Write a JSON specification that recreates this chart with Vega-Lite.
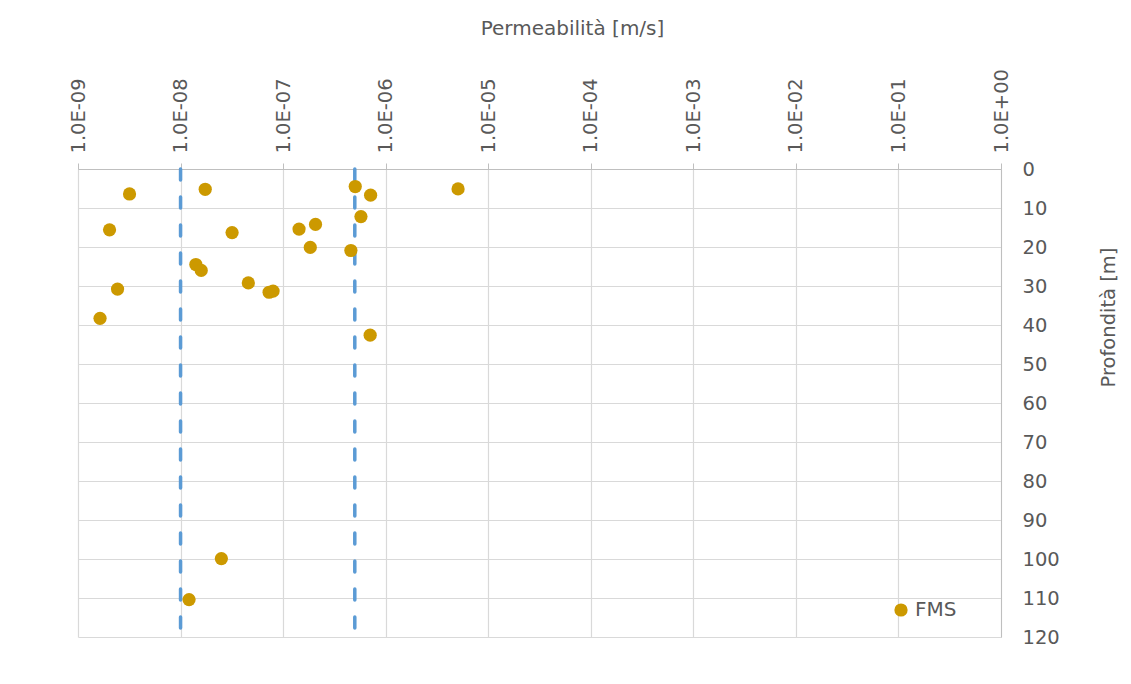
{
  "$schema": "https://vega.github.io/schema/vega-lite/v6.json",
  "width": 923,
  "height": 468,
  "autosize": {"type": "none"},
  "padding": {"left": 78, "top": 169, "right": 130, "bottom": 47},
  "background": "white",
  "config": {
    "font": "DejaVu Sans",
    "view": {"stroke": null}
  },
  "datasets": {
    "pts": [
      {"k": 3.18e-9, "depth": 6.4, "series": "FMS"},
      {"k": 1.74e-8, "depth": 5.2, "series": "FMS"},
      {"k": 5.05e-7, "depth": 4.5, "series": "FMS"},
      {"k": 7.13e-7, "depth": 6.7, "series": "FMS"},
      {"k": 5.08e-6, "depth": 5.1, "series": "FMS"},
      {"k": 5.74e-7, "depth": 12.2, "series": "FMS"},
      {"k": 2.03e-9, "depth": 15.6, "series": "FMS"},
      {"k": 3.18e-8, "depth": 16.3, "series": "FMS"},
      {"k": 1.43e-7, "depth": 15.4, "series": "FMS"},
      {"k": 2.07e-7, "depth": 14.2, "series": "FMS"},
      {"k": 1.84e-7, "depth": 20.1, "series": "FMS"},
      {"k": 4.58e-7, "depth": 20.9, "series": "FMS"},
      {"k": 1.41e-8, "depth": 24.5, "series": "FMS"},
      {"k": 1.59e-8, "depth": 26.0, "series": "FMS"},
      {"k": 4.58e-8, "depth": 29.2, "series": "FMS"},
      {"k": 7.3e-8, "depth": 31.6, "series": "FMS"},
      {"k": 7.98e-8, "depth": 31.3, "series": "FMS"},
      {"k": 2.43e-9, "depth": 30.8, "series": "FMS"},
      {"k": 1.64e-9, "depth": 38.3, "series": "FMS"},
      {"k": 7.06e-7, "depth": 42.6, "series": "FMS"},
      {"k": 2.5e-8, "depth": 99.9, "series": "FMS"},
      {"k": 1.21e-8, "depth": 110.4, "series": "FMS"}
    ],
    "limits": [
      {"k": 1e-8},
      {"k": 5.0e-7}
    ]
  },
  "layer": [
    {
      "data": {"name": "limits"},
      "mark": {"type": "rule", "color": "#5b9bd5", "strokeWidth": 3.5, "strokeDash": [11, 17], "strokeCap": "round"},
      "encoding": {
        "x": {"field": "k", "type": "quantitative", "scale": {"type": "log", "domain": [1e-9, 1]}}
      }
    },
    {
      "data": {"name": "pts"},
      "mark": {"type": "circle", "size": 175, "opacity": 1},
      "encoding": {
        "x": {
          "field": "k", "type": "quantitative",
          "scale": {"type": "log", "domain": [1e-9, 1]},
          "axis": {
            "orient": "top",
            "title": "Permeabilità [m/s]",
            "titleFontSize": 20,
            "titleFontWeight": "normal",
            "titleColor": "#595959",
            "titleX": 494,
            "titleY": -141,
            "titleAlign": "center",
            "titleBaseline": "middle",
            "values": [1e-9, 1e-8, 1e-7, 1e-6, 1e-5, 1e-4, 1e-3, 1e-2, 1e-1, 1],
            "labelExpr": "'1.0E' + (round(log(datum.value)/LN10) < 0 ? '-' : '+') + (abs(round(log(datum.value)/LN10)) < 10 ? '0' : '') + abs(round(log(datum.value)/LN10))",
            "labelAngle": -90,
            "labelAlign": "left",
            "labelBaseline": "middle",
            "labelFontSize": 19.5,
            "labelColor": "#595959",
            "labelPadding": 10,
            "labelFlush": false,
            "labelOverlap": false,
            "tickColor": "#bfbfbf",
            "tickSize": 6,
            "domainColor": "#bfbfbf",
            "grid": true,
            "gridColor": "#d9d9d9",
            "gridWidth": 1.2
          }
        },
        "y": {
          "field": "depth", "type": "quantitative",
          "scale": {"domain": [0, 120], "reverse": true, "nice": false},
          "axis": {
            "orient": "right",
            "title": "Profondità [m]",
            "titleFontSize": 19.5,
            "titleFontWeight": "normal",
            "titleColor": "#595959",
            "titleAngle": 270,
            "titleX": 107,
            "titleY": 148,
            "titleBaseline": "middle",
            "titleAlign": "center",
            "values": [0, 10, 20, 30, 40, 50, 60, 70, 80, 90, 100, 110, 120],
            "labelFontSize": 19.5,
            "labelColor": "#595959",
            "labelPadding": 21,
            "ticks": false,
            "domainColor": "#bfbfbf",
            "grid": true,
            "gridColor": "#d9d9d9",
            "gridWidth": 1.2
          }
        },
        "color": {
          "field": "series", "type": "nominal",
          "scale": {"range": ["#cc9900"]},
          "legend": {
            "title": null,
            "orient": "none",
            "legendX": 813,
            "legendY": 431,
            "labelFontSize": 20,
            "labelColor": "#595959",
            "symbolType": "circle",
            "symbolSize": 175,
            "symbolStrokeWidth": 0,
            "symbolOpacity": 1
          }
        }
      }
    }
  ]
}
